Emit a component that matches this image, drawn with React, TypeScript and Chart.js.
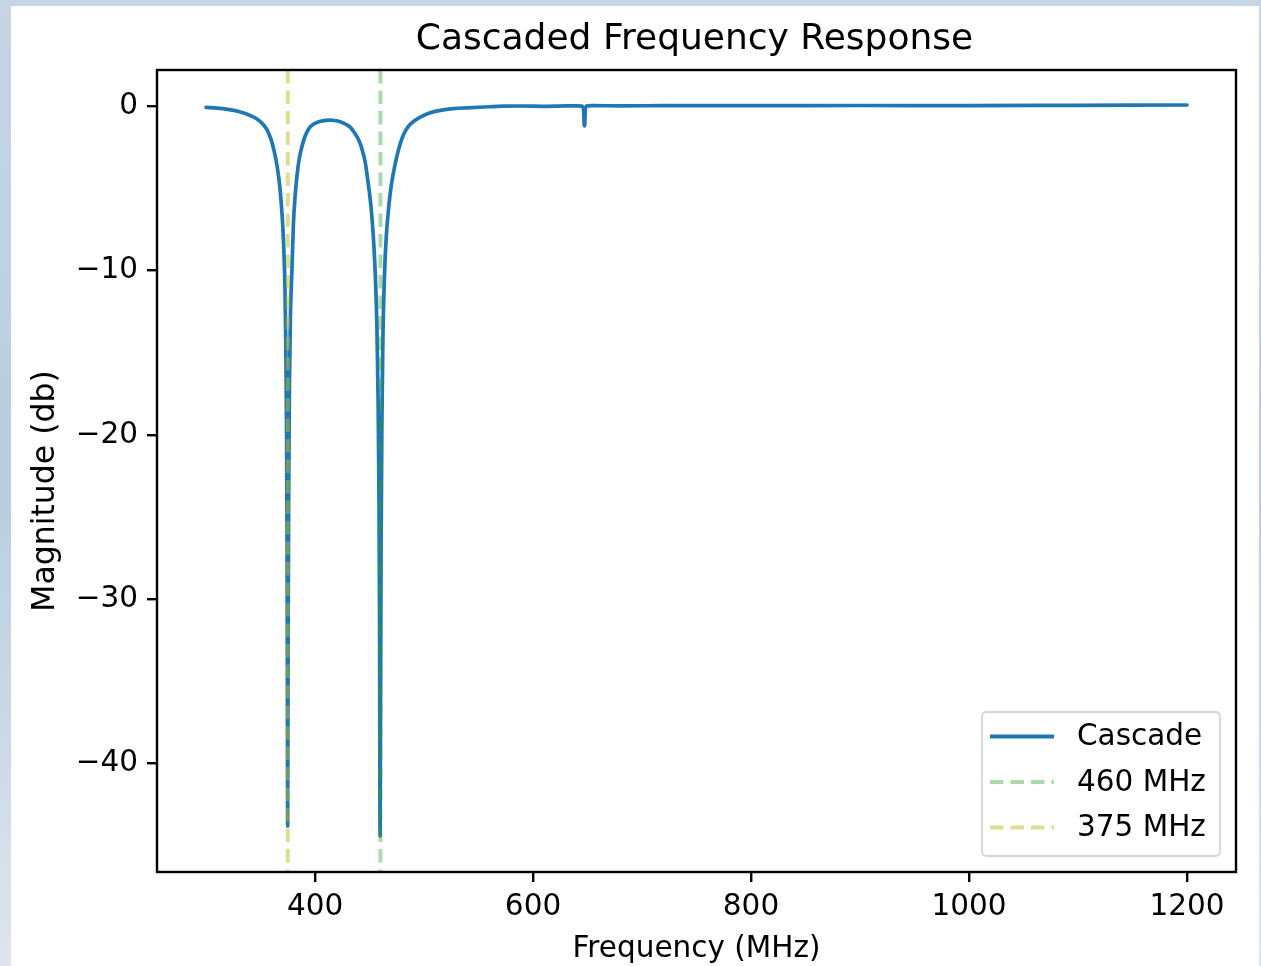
import React, { useEffect, useRef } from "react";
import { Chart, registerables } from "chart.js";

Chart.register(...registerables);

const TITLE = "Cascaded Frequency Response";
const X_LABEL = "Frequency (MHz)";
const Y_LABEL = "Magnitude (db)";

const frequencies = [
  300, 310, 320, 330, 340, 346, 350, 353, 356, 358, 360, 362, 364, 366, 367.5,
  369, 370.3, 371.4, 372.4, 373.2, 373.9, 374.3, 374.6, 374.9, 375.3, 375.8,
  376.5, 377.5, 378.7, 380.2, 381.8, 383.5, 385.5, 388, 391, 395, 400, 405, 410,
  414, 418, 423, 428, 432, 436, 440, 443, 446, 448, 450, 452, 454, 455.5, 456.8,
  457.8, 458.6, 459.2, 459.7, 460.1, 460.6, 461.3, 462.3, 463.6, 465.3, 467.4,
  470, 473.6, 477, 481, 486, 491, 497, 505, 515, 527, 540, 555, 573, 590, 610,
  630, 640, 645, 646.5, 647, 647.5, 648, 649.5, 655, 680, 720, 800, 900, 1000,
  1100, 1200,
];

const magnitudes = [
  -0.08, -0.12, -0.2, -0.33, -0.55, -0.75, -0.95, -1.15, -1.45, -1.75, -2.1,
  -2.6, -3.2, -4.0, -4.8, -5.9, -7.2, -8.8, -11, -14.5, -20, -26, -34, -43.8,
  -33, -24, -17, -12.5, -10.2, -7.1, -5.4, -4.2, -3.2, -2.45, -1.8, -1.3, -1.05,
  -0.92, -0.86, -0.85, -0.87, -0.95, -1.1, -1.26, -1.6, -2.05, -2.6, -3.4,
  -4.3, -5.3, -6.6, -8.5, -10.6, -13.5, -17.5, -23, -31, -44.4, -36, -27,
  -19.5, -14, -10.5, -8, -6.3, -4.8, -3.5, -2.55, -1.75, -1.2, -0.9, -0.65,
  -0.42, -0.26, -0.15, -0.1, -0.05, 0.0, 0.01, -0.01, 0.02, 0.02, 0.0, -0.3,
  -1.2, -1.1, -0.2, 0.02, 0.03, 0.02, 0.03, 0.03, 0.04, 0.03, 0.05, 0.07,
];

const markerFreqs = [460, 375];
const markerLabels = ["460 MHz", "375 MHz"];
const markerColors = ["rgba(44,160,44,0.4)", "rgba(188,189,34,0.5)"];
const seriesLabel = "Cascade";
const seriesColor = "#1f77b4";

const xTicks = [400, 600, 800, 1000, 1200];
const yTicks = [0, -10, -20, -30, -40];
const xRange = [255, 1245];
const yRange = [-46.6, 2.2];

const FONT = "'DejaVu Sans', 'Liberation Sans', sans-serif";

const decorPlugin = {
  id: "decor",
  afterDatasetsDraw(chart: any) {
    const { ctx, chartArea } = chart;
    const { left, right, top, bottom } = chartArea;
    ctx.save();
    ctx.strokeStyle = "#000";
    ctx.lineWidth = 2.4;
    ctx.strokeRect(left, top, right - left, bottom - top);
    ctx.restore();
  },
  afterDraw(chart: any) {
    const { ctx, chartArea } = chart;
    const { left, right, top, bottom } = chartArea;
    ctx.save();
    ctx.fillStyle = "#000";
    // title
    ctx.font = `36px ${FONT}`;
    ctx.textAlign = "center";
    ctx.textBaseline = "alphabetic";
    ctx.fillText(TITLE, (left + right) / 2 - 2, 49);
    // x label
    ctx.font = `29.5px ${FONT}`;
    ctx.fillText(X_LABEL, (left + right) / 2, 957);
    // y label
    ctx.save();
    ctx.font = `31.5px ${FONT}`;
    ctx.translate(54, (top + bottom) / 2 + 20);
    ctx.rotate(-Math.PI / 2);
    ctx.fillText(Y_LABEL, 0, 0);
    ctx.restore();

    // legend
    const bx = 982, by = 712, bw = 238, bh = 144, r = 5;
    ctx.beginPath();
    ctx.moveTo(bx + r, by);
    ctx.lineTo(bx + bw - r, by);
    ctx.quadraticCurveTo(bx + bw, by, bx + bw, by + r);
    ctx.lineTo(bx + bw, by + bh - r);
    ctx.quadraticCurveTo(bx + bw, by + bh, bx + bw - r, by + bh);
    ctx.lineTo(bx + r, by + bh);
    ctx.quadraticCurveTo(bx, by + bh, bx, by + bh - r);
    ctx.lineTo(bx, by + r);
    ctx.quadraticCurveTo(bx, by, bx + r, by);
    ctx.closePath();
    ctx.fillStyle = "rgba(255,255,255,0.8)";
    ctx.fill();
    ctx.strokeStyle = "#d6d6d6";
    ctx.lineWidth = 1.8;
    ctx.stroke();

    const rows = [
      { label: seriesLabel, color: seriesColor, dash: [] as number[] },
      { label: markerLabels[0], color: markerColors[0], dash: [13.5, 7] },
      { label: markerLabels[1], color: markerColors[1], dash: [13.5, 7] },
    ];
    const rowY = [736.5, 782, 827.5];
    rows.forEach((row, i) => {
      ctx.beginPath();
      ctx.setLineDash(row.dash);
      ctx.strokeStyle = row.color;
      ctx.lineWidth = 4;
      ctx.lineCap = "butt";
      ctx.moveTo(990, rowY[i]);
      ctx.lineTo(1054, rowY[i]);
      ctx.stroke();
      ctx.setLineDash([]);
      ctx.fillStyle = "#000";
      ctx.font = `29.5px ${FONT}`;
      ctx.textAlign = "left";
      ctx.textBaseline = "middle";
      ctx.fillText(row.label, 1077, rowY[i] + 1);
    });
    ctx.restore();
  },
};

export default function App() {
  const canvasRef = useRef<HTMLCanvasElement | null>(null);

  useEffect(() => {
    if (!canvasRef.current) return;
    Chart.defaults.color = "#000";
    Chart.defaults.font.family = FONT;
    Chart.defaults.font.size = 29.5;

    const curve = frequencies.map((f, i) => ({ x: f, y: magnitudes[i] }));
    const markerSets = markerFreqs.map((f, i) => ({
      label: markerLabels[i],
      data: [
        { x: f, y: yRange[1] },
        { x: f, y: yRange[0] },
      ],
      borderColor: markerColors[i],
      borderWidth: 4,
      borderDash: [13.5, 7],
      pointRadius: 0,
      order: 0,
    }));

    const chart = new Chart(canvasRef.current, {
      type: "line",
      data: {
        datasets: [
          {
            label: seriesLabel,
            data: curve,
            borderColor: seriesColor,
            borderWidth: 3.7,
            pointRadius: 0,
            cubicInterpolationMode: "monotone",
            borderJoinStyle: "round",
            borderCapStyle: "round",
            order: 1,
          } as any,
          ...markerSets,
        ],
      },
      options: {
        animation: false,
        responsive: false,
        devicePixelRatio: 1,
        layout: { padding: { left: 0, right: 25, top: 70, bottom: 0 } },
        plugins: {
          legend: { display: false },
          title: { display: false },
          tooltip: { enabled: false },
        },
        scales: {
          x: {
            type: "linear",
            min: xRange[0],
            max: xRange[1],
            afterBuildTicks: (s: any) => {
              s.ticks = xTicks.map((v) => ({ value: v }));
            },
            afterFit: (s: any) => {
              s.height = 94;
            },
            border: { display: false },
            grid: {
              drawOnChartArea: false,
              drawTicks: true,
              tickLength: 10,
              color: "#000",
              lineWidth: 2.4,
            },
            ticks: {
              padding: 8,
              maxRotation: 0,
              autoSkip: false,
              callback: (v: any) => String(v),
              font: { size: 29.5, family: FONT },
              color: "#000",
            },
          },
          y: {
            type: "linear",
            min: yRange[0],
            max: yRange[1],
            afterBuildTicks: (s: any) => {
              s.ticks = yTicks.map((v) => ({ value: v }));
            },
            afterFit: (s: any) => {
              s.width = 157;
            },
            border: { display: false },
            grid: {
              drawOnChartArea: false,
              drawTicks: true,
              tickLength: 10,
              color: "#000",
              lineWidth: 2.4,
            },
            ticks: {
              padding: 9,
              autoSkip: false,
              callback: (v: any) => (v < 0 ? "\u2212" + Math.abs(v) : String(v)),
              font: { size: 29.5, family: FONT },
              color: "#000",
            },
          },
        },
      } as any,
      plugins: [decorPlugin],
    });
    return () => chart.destroy();
  }, []);

  return (
    <div
      style={{
        position: "absolute",
        left: 0,
        top: 0,
        width: 1261,
        height: 966,
        overflow: "hidden",
        background: "linear-gradient(180deg, #c6d5e4 0%, #b9cde0 50%, #dde5ec 100%)",
      }}
    >
      <div
        style={{
          position: "absolute",
          left: 11,
          top: 6,
          width: 1248,
          height: 960,
          background: "#fff",
        }}
      />
      <canvas
        ref={canvasRef}
        width={1261}
        height={966}
        style={{ position: "absolute", left: 0, top: 0, width: 1261, height: 966 }}
      />
    </div>
  );
}
